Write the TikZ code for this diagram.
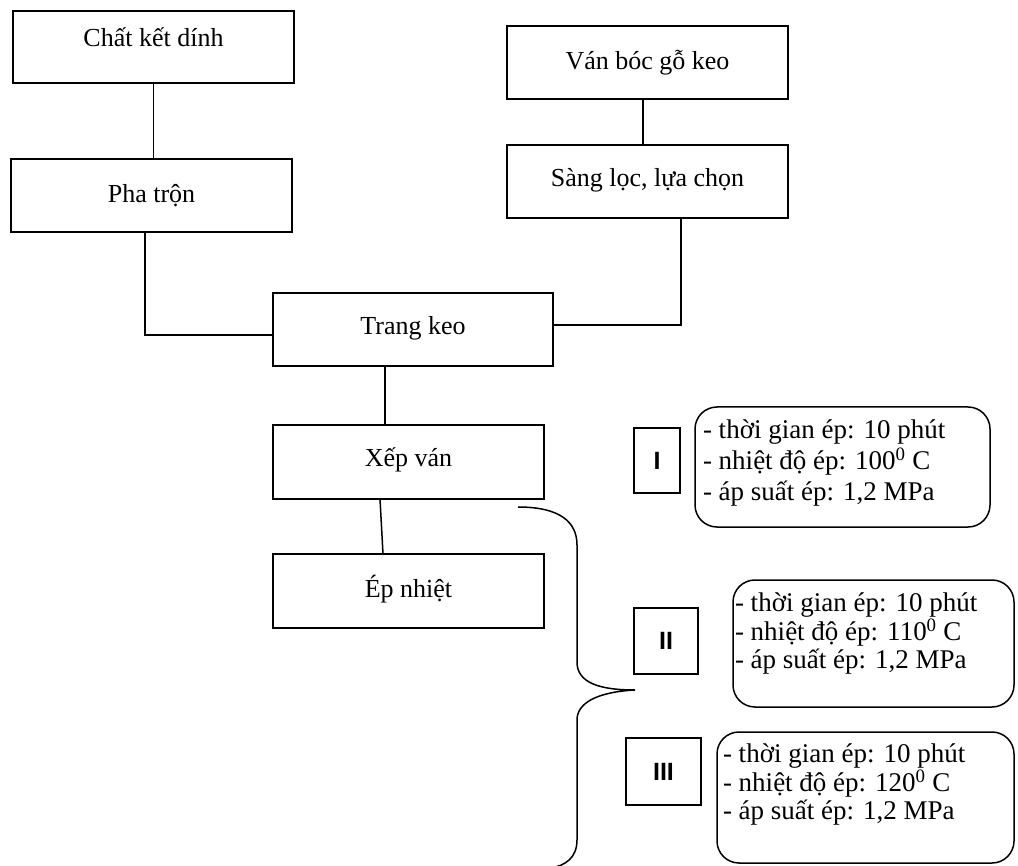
\documentclass[tikz,border=0pt]{standalone}
\usepackage{fontspec}
\setmainfont{Liberation Serif}
\newfontfamily\romfont{Liberation Sans}
\tikzset{
  lw/.style={line width=1.5pt},
  procbox/.style={draw, lw, rectangle, inner sep=0pt, outer sep=0pt, text height=18pt, text depth=6pt,
    font=\fontsize{26}{28}\selectfont},
  rombox/.style={draw, lw, rectangle, inner sep=0pt, outer sep=0pt, font=\romfont\bfseries\fontsize{25}{26}\selectfont},
  condbox/.style={draw, lw, rectangle, rounded corners=22pt, inner sep=0pt, outer sep=0pt},
  condtext/.style={anchor=base west, inner sep=0pt, outer sep=0pt},
  conn/.style={lw}
}
\begin{document}
\begin{tikzpicture}[x=1pt,y=-1pt]
\useasboundingbox (0,0) rectangle (1018,866);
% process boxes
\node[procbox, minimum width=281pt, minimum height=72pt, text depth=18pt] (chat) at (153.5,47) {Chất kết dính};
\node[procbox, minimum width=281pt, minimum height=73pt, text depth=3pt] (pha) at (151.5,195.5) {Pha trộn};
\node[procbox, minimum width=281pt, minimum height=73pt, text depth=3pt] (van) at (647.5,62.5) {Ván bóc gỗ keo};
\node[procbox, minimum width=281pt, minimum height=73pt, text depth=7pt] (sang) at (647.5,181.5) {Sàng lọc, lựa chọn};
\node[procbox, minimum width=280pt, minimum height=73pt, text depth=7pt] (trang) at (413,329.5) {Trang keo};
\node[procbox, minimum width=271pt, minimum height=74pt, text depth=8pt] (xep) at (408.5,462) {Xếp ván};
\node[procbox, minimum width=271pt, minimum height=74pt, text depth=6pt] (ep) at (408.5,591) {Ép nhiệt};
% connectors
\draw[conn] (chat.south) -- (chat.south |- pha.north);
\draw[conn] ([xshift=-6.5pt]pha.south) |- ([yshift=-5.5pt]trang.west);
\draw[conn] ([xshift=-4.5pt]van.south) -- ([xshift=-4.5pt]van.south |- sang.north);
\draw[conn] ([xshift=33.5pt]sang.south) |- ([yshift=4.5pt]trang.east);
\draw[conn] ([xshift=-28pt]trang.south) -- ([xshift=-28pt]trang.south |- xep.north);
\draw[conn] ([xshift=-28.5pt]xep.south) -- ([xshift=-25.5pt]ep.north);
% brace
\draw[lw] (518,507) .. controls (560,507) and (577,522) .. (577,545)
  -- (577,662) .. controls (577,683) and (600,690) .. (635,690)
  .. controls (597,692) and (577,703) .. (577,720)
  -- (577,840) .. controls (577,858) and (565,866) .. (550,868);
% roman boxes
\node[rombox, minimum width=46pt, minimum height=65pt] (b1) at (657,460.5) {I};
\node[rombox, minimum width=64pt, minimum height=66pt] (b2) at (666,641) {II};
\node[rombox, minimum width=75pt, minimum height=67pt] (b3) at (663.5,771.5) {III};
% condition boxes
\node[condbox, minimum width=295pt, minimum height=120pt] (r1) at (842.5,467) {};
\node[condbox, minimum width=281pt, minimum height=127pt] (r2) at (873.5,643.5) {};
\node[condbox, minimum width=297pt, minimum height=131pt] (r3) at (865.5,797.5) {};
\node[condtext] (t1) at (703,439) {\fontsize{27}{30.5}\selectfont\begin{tabular}[t]{@{}l@{}}- thời gian ép: 10 phút\\- nhiệt độ ép: 100\textsuperscript{0} C\\- áp suất ép: 1,2 MPa\end{tabular}};
\node[condtext] (t2) at (735,611) {\fontsize{27}{27.5}\selectfont\begin{tabular}[t]{@{}l@{}}- thời gian ép: 10 phút\\- nhiệt độ ép: 110\textsuperscript{0} C\\- áp suất ép: 1,2 MPa\end{tabular}};
\node[condtext] (t3) at (723,762) {\fontsize{27}{27.5}\selectfont\begin{tabular}[t]{@{}l@{}}- thời gian ép: 10 phút\\- nhiệt độ ép: 120\textsuperscript{0} C\\- áp suất ép: 1,2 MPa\end{tabular}};
\end{tikzpicture}
\end{document}
